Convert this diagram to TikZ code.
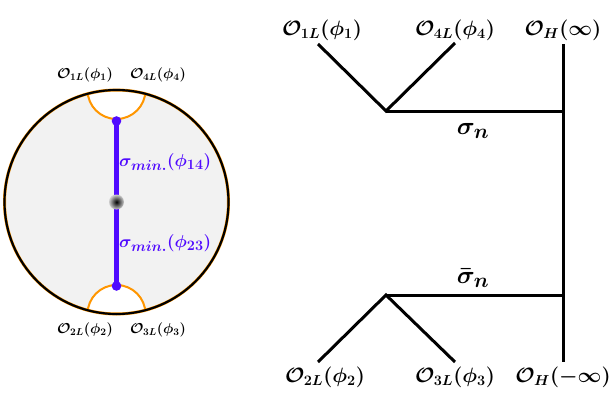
\documentclass[tikz,border=0pt]{standalone}
\usepackage{amsmath,bm}
\definecolor{myblue}{RGB}{80,10,255}
\definecolor{myorange}{RGB}{255,150,0}
\definecolor{myfill}{RGB}{242,242,242}
\tikzset{
  big/.style={font=\fontsize{20}{24}\selectfont\boldmath, inner sep=0pt},
  huge/.style={font=\fontsize{28}{32}\selectfont\boldmath, inner sep=0pt},
  small/.style={font=\fontsize{14}{17}\selectfont\boldmath, inner sep=0pt},
  bluelab/.style={font=\fontsize{19}{22}\selectfont\boldmath, text=myblue, inner sep=0pt, anchor=west},
  leg/.style={line width=3pt},
}
\begin{document}
\begin{tikzpicture}[x=1pt,y=-1pt]
\useasboundingbox (0,0) rectangle (614,415);
% left disk
\coordinate (c) at (116.5,202);
\fill[myfill] (c) circle (112);
\begin{scope}
\clip (c) circle (112);
\fill[white] (116.5,90) circle (29);
\fill[white] (116.5,314) circle (29);
\draw[myorange, line width=2pt] (116.5,90) circle (29);
\draw[myorange, line width=2pt] (116.5,314) circle (29);
\end{scope}
\draw[myorange, line width=3pt] (c) circle (112);
\draw[black, line width=2.2pt] (c) circle (112);
\coordinate (t) at (116.5,121);
\coordinate (b) at (116.5,286);
\draw[myblue, line width=4.5pt] (t) -- (b);
\fill[myblue] (t) circle (4.8);
\fill[myblue] (b) circle (4.8);
\shade[inner color=black, outer color=gray!40] (c) circle (7.5);
\node[bluelab] (s14) at (119,162) {$\sigma_{min.}(\phi_{14})$};
\node[bluelab] (s23) at (119,243) {$\sigma_{min.}(\phi_{23})$};
\node[small] (l1) at (85,75) {$\mathcal{O}_{1L}(\phi_1)$};
\node[small] (l4) at (158,75) {$\mathcal{O}_{4L}(\phi_4)$};
\node[small] (l2) at (85,330) {$\mathcal{O}_{2L}(\phi_2)$};
\node[small] (l3) at (158,330) {$\mathcal{O}_{3L}(\phi_3)$};
% right diagram
\node[big] (r1) at (322,30) {$\mathcal{O}_{1L}(\phi_1)$};
\node[big] (r4) at (455,30) {$\mathcal{O}_{4L}(\phi_4)$};
\node[big] (rh) at (563,30) {$\mathcal{O}_{H}(\infty)$};
\node[big] (r2) at (325,377) {$\mathcal{O}_{2L}(\phi_2)$};
\node[big] (r3) at (455,377) {$\mathcal{O}_{3L}(\phi_3)$};
\node[big] (rmh) at (563,377) {$\mathcal{O}_{H}(-\infty)$};
\coordinate (v1) at (386,111);
\coordinate (v2) at (386,295);
\coordinate (h1) at (563,111);
\coordinate (h2) at (563,295);
\coordinate (e1) at (318,44);
\coordinate (e4) at (455,43);
\coordinate (e2) at (318,362);
\coordinate (e3) at (455,362);
\coordinate (et) at (563,44);
\coordinate (eb) at (563,362);
\draw[leg] (e1) -- (v1) -- (e4);
\draw[leg] (e2) -- (v2) -- (e3);
\draw[leg] (v1) -- (h1);
\draw[leg] (v2) -- (h2);
\draw[leg] (et) -- (eb);
\node[huge] (sn) at (473,131) {$\sigma_n$};
\node[huge] (sbn) at (473,278) {$\bar{\sigma}_n$};
\end{tikzpicture}
\end{document}
